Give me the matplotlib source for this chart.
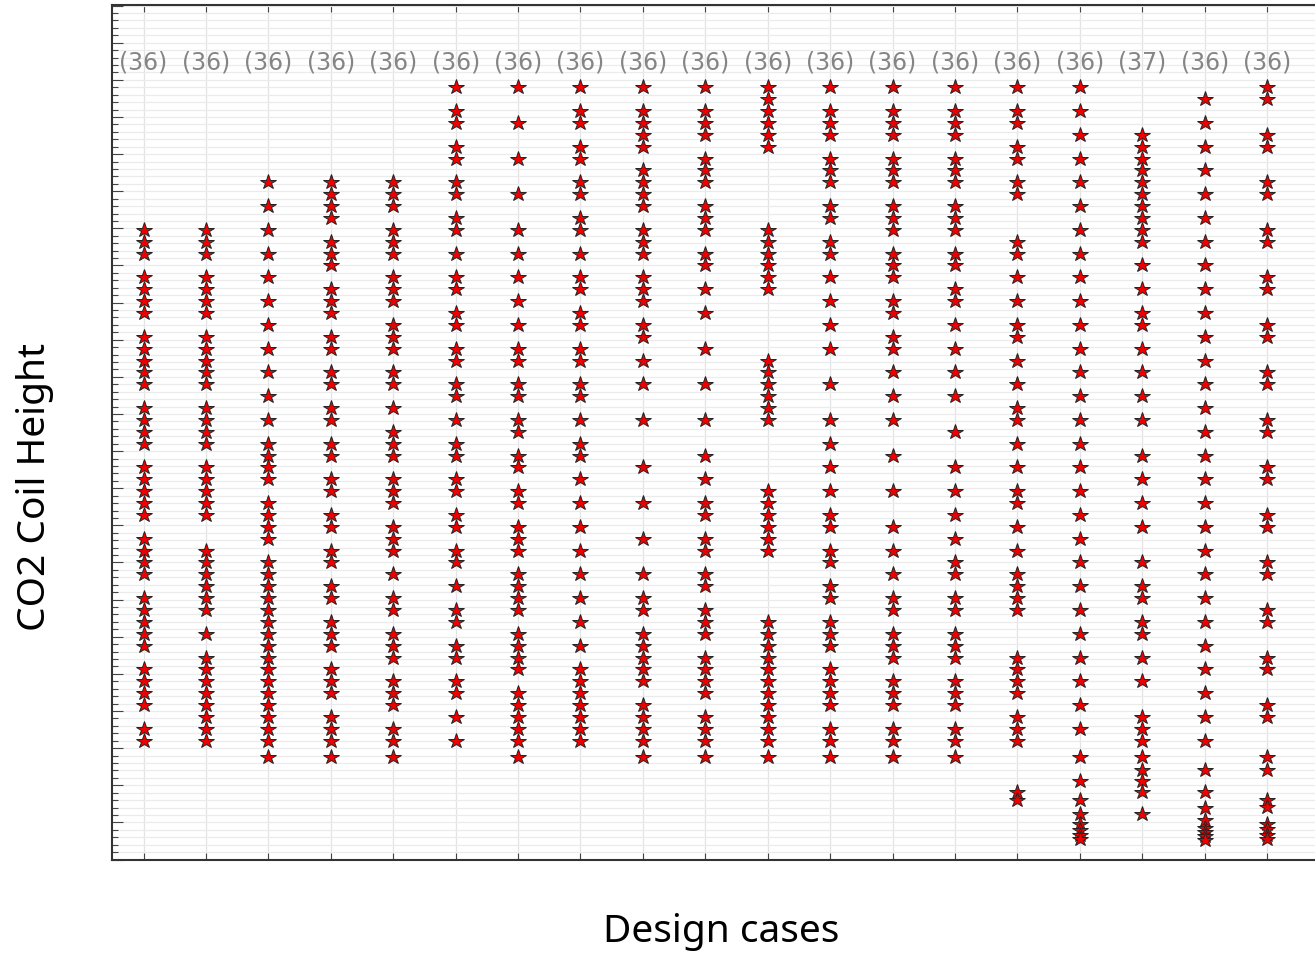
import matplotlib
matplotlib.use("Agg")
import matplotlib.pyplot as plt
from matplotlib.ticker import MultipleLocator, NullFormatter

# ---- data (coil height levels per design case) ----
case_1 = [53, 52, 51, 49, 48, 47, 46, 44, 43, 42, 41, 40, 38, 37, 36, 35, 33, 32, 31, 30, 29, 27, 26, 25, 24, 22, 21, 20, 19, 18, 16, 15, 14, 13, 11, 10]
case_2 = [53, 52, 51, 49, 48, 47, 46, 44, 43, 42, 41, 40, 38, 37, 36, 35, 33, 32, 31, 30, 29, 26, 25, 24, 23, 22, 21, 19, 17, 16, 15, 14, 13, 12, 11, 10]
case_3 = [57, 55, 53, 51, 49, 47, 45, 43, 41, 39, 37, 35, 34, 33, 32, 30, 29, 28, 27, 25, 24, 23, 22, 21, 20, 19, 18, 17, 16, 15, 14, 13, 12, 11, 10, 8.6]
case_4 = [57, 56, 55, 54, 52, 51, 50, 48, 47, 46, 44, 43, 41, 40, 38, 37, 35, 34, 32, 31, 29, 28, 26, 25, 23, 22, 20, 19, 18, 16, 15, 14, 12, 11, 10, 8.6]
case_5 = [57, 56, 55, 53, 52, 51, 49, 48, 47, 45, 44, 43, 41, 40, 38, 36, 35, 34, 32, 31, 30, 28, 27, 26, 24, 22, 21, 19, 18, 17, 15, 14, 13, 11, 10, 8.6]
case_6 = [65, 63, 62, 60, 59, 57, 56, 54, 53, 51, 49, 48, 46, 45, 43, 42, 40, 39, 37, 35, 34, 32, 31, 29, 28, 26, 25, 23, 21, 20, 18, 17, 15, 14, 12, 10]
case_7 = [65, 62, 59, 56, 53, 51, 49, 47, 45, 43, 42, 40, 39, 37, 36, 34, 33, 31, 30, 28, 27, 26, 24, 23, 22, 21, 19, 18, 17, 16, 14, 13, 12, 11, 10, 8.6]
case_8 = [65, 63, 62, 60, 59, 57, 56, 54, 53, 51, 49, 48, 46, 45, 43, 42, 40, 39, 37, 35, 34, 32, 30, 28, 26, 24, 22, 20, 18, 16, 15, 14, 13, 12, 11, 10]
case_9 = [65, 63, 62, 61, 60, 58, 57, 56, 55, 53, 52, 51, 49, 48, 47, 45, 44, 42, 40, 37, 33, 30, 27, 24, 22, 21, 19, 18, 17, 16, 15, 13, 12, 11, 10, 8.6]
case_10 = [65, 63, 62, 61, 59, 58, 57, 55, 54, 53, 51, 50, 48, 46, 43, 40, 37, 34, 32, 30, 29, 27, 26, 24, 23, 21, 20, 19, 17, 16, 15, 14, 12, 11, 10, 8.6]
case_11 = [65, 64, 63, 62, 61, 60, 53, 52, 51, 50, 49, 48, 42, 41, 40, 39, 38, 37, 31, 30, 29, 28, 27, 26, 20, 19, 18, 17, 16, 15, 14, 13, 12, 11, 10, 8.6]
case_12 = [65, 63, 62, 61, 59, 58, 57, 55, 54, 52, 51, 49, 47, 45, 43, 40, 37, 35, 33, 31, 29, 28, 26, 25, 23, 22, 20, 19, 18, 16, 15, 14, 13, 11, 10, 8.6]
case_13 = [65, 63, 62, 61, 59, 58, 57, 55, 54, 53, 51, 50, 49, 47, 46, 44, 43, 41, 39, 37, 34, 31, 28, 26, 24, 22, 21, 19, 18, 17, 15, 14, 13, 11, 10, 8.6]
case_14 = [65, 63, 62, 61, 59, 58, 57, 55, 54, 53, 51, 50, 48, 47, 45, 43, 41, 39, 36, 33, 31, 29, 27, 25, 24, 22, 21, 19, 18, 17, 15, 14, 13, 11, 10, 8.6]
case_15 = [65, 63, 62, 60, 59, 57, 56, 52, 51, 49, 47, 45, 44, 42, 40, 38, 37, 35, 33, 31, 30, 28, 26, 24, 23, 22, 21, 17, 16, 15, 14, 12, 11, 10, 5.7, 5.0]
case_16 = [65, 63, 61, 59, 57, 55, 53, 51, 49, 47, 45, 43, 41, 39, 37, 35, 33, 31, 29, 27, 25, 23, 21, 19, 17, 15, 13, 11, 8.6, 6.6, 5.0, 3.8, 3.0, 2.5, 2.1, 1.7]
case_17 = [61, 60, 59, 58, 57, 56, 55, 54, 53, 52, 50, 48, 46, 45, 43, 41, 39, 37, 34, 32, 30, 28, 25, 23, 22, 20, 19, 17, 15, 12, 11, 10, 8.6, 7.5, 6.6, 5.7, 3.8]
case_18 = [64, 62, 60, 58, 56, 54, 52, 50, 48, 46, 44, 42, 40, 38, 36, 34, 32, 30, 28, 26, 24, 22, 20, 18, 16, 14, 12, 10, 7.5, 5.7, 4.3, 3.3, 2.65, 2.3, 2.0, 1.65]
case_19 = [65, 64, 61, 60, 57, 56, 53, 52, 49, 48, 45, 44, 41, 40, 37, 36, 33, 32, 29, 28, 25, 24, 21, 20, 17, 16, 13, 12, 8.6, 7.5, 5.0, 4.4, 3.0, 2.6, 2.1, 1.7]

cases = [case_1, case_2, case_3, case_4, case_5, case_6, case_7, case_8, case_9, case_10,
         case_11, case_12, case_13, case_14, case_15, case_16, case_17, case_18, case_19]
case_positions = list(range(1, 20))
count_labels = ["(36)"] * 16 + ["(37)", "(36)", "(36)"]
label_level = 67.1

W, H = 1315, 957
fig = plt.figure(figsize=(W / 100, H / 100), dpi=100)
ax = fig.add_axes([112.3 / W, (H - 859.5) / H, 0.9162, (859.5 - 5.3) / H])

for xpos, vals in zip(case_positions, cases):
    ax.plot([xpos] * len(vals), vals, linestyle="none", marker="*", markersize=11.5,
            markerfacecolor="#ee0000", markeredgecolor="#222222", markeredgewidth=0.7, zorder=3)

for xpos, lab in zip(case_positions, count_labels):
    ax.text(xpos, label_level, lab, ha="center", va="center", fontsize=17,
            color="#858585", family="DejaVu Sans", zorder=4)

ax.set_xlim(0.5, 19.8)
ax.set_ylim(0, 71.9)
ax.set_xticks(case_positions)
ax.xaxis.set_major_formatter(NullFormatter())
ax.yaxis.set_major_locator(MultipleLocator(3.125))
ax.yaxis.set_minor_locator(MultipleLocator(0.625))
ax.yaxis.set_major_formatter(NullFormatter())
ax.tick_params(axis="x", which="both", direction="in", top=True, bottom=True, length=5,
               width=0.8, color="#444444")
ax.tick_params(axis="y", which="major", direction="in", left=True, right=False, length=8,
               width=0.8, color="#444444")
ax.tick_params(axis="y", which="minor", direction="in", left=True, right=False, length=4,
               width=0.8, color="#444444")
ax.grid(True, axis="x", which="major", color="#e3e3e3", linewidth=0.9, zorder=0)
ax.grid(True, axis="y", which="both", color="#ebebeb", linewidth=0.9, zorder=0)
ax.set_axisbelow(True)
for side in ["left", "bottom", "top"]:
    ax.spines[side].set_color("#333333")
    ax.spines[side].set_linewidth(1.5)
ax.spines["right"].set_visible(False)

fig.text(721 / W, 1 - 932 / H, "Design cases", ha="center", va="center",
         fontsize=28, family="Noto Sans", color="black")
fig.text(35 / W, 1 - 487 / H, "CO2 Coil Height", ha="center", va="center",
         rotation=90, fontsize=28, family="Noto Sans", color="black")

fig.savefig("out.png", dpi=100)
